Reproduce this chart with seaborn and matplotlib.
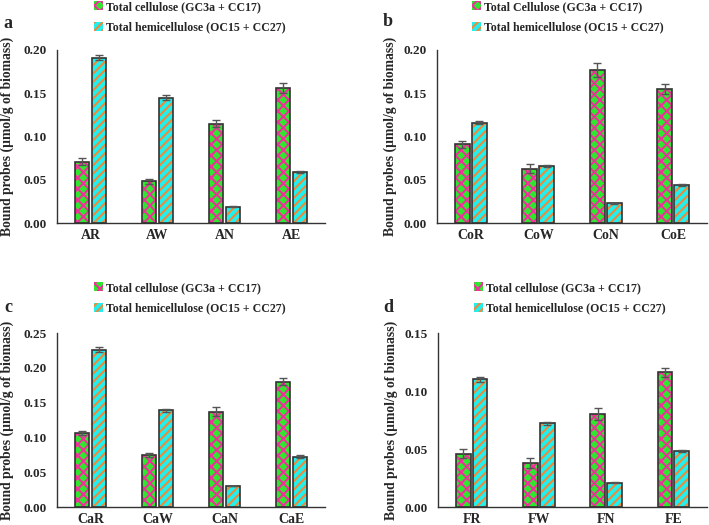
import pandas as pd
import seaborn as sns
import matplotlib.pyplot as plt
from matplotlib.patches import Patch, Rectangle

cats_a = ["AR", "AW", "AN", "AE"]
cell_a = [0.071, 0.048, 0.115, 0.156]
cell_a_err = [0.004, 0.003, 0.004, 0.006]
hemi_a = [0.191, 0.145, 0.019, 0.059]
hemi_a_err = [0.003, 0.003, 0.0005, 0.001]

cats_b = ["CoR", "CoW", "CoN", "CoE"]
cell_b = [0.091, 0.063, 0.177, 0.155]
cell_b_err = [0.004, 0.005, 0.008, 0.006]
hemi_b = [0.116, 0.066, 0.023, 0.044]
hemi_b_err = [0.002, 0.001, 0.0005, 0.001]

cats_c = ["CaR", "CaW", "CaN", "CaE"]
cell_c = [0.106, 0.075, 0.137, 0.180]
cell_c_err = [0.003, 0.003, 0.006, 0.005]
hemi_c = [0.226, 0.139, 0.030, 0.072]
hemi_c_err = [0.004, 0.002, 0.0005, 0.002]

cats_d = ["FR", "FW", "FN", "FE"]
cell_d = [0.046, 0.038, 0.080, 0.116]
cell_d_err = [0.004, 0.004, 0.005, 0.004]
hemi_d = [0.110, 0.072, 0.021, 0.048]
hemi_d_err = [0.002, 0.001, 0.0005, 0.001]

GREEN, MAGENTA = "#2ee82e", "#f0309a"
CYAN, ORANGE = "#1ff0f0", "#f08a3a"
EDGE = "#333333"
CELL_HATCH, HEMI_HATCH = "xxx", "////"


def panel(ax, cats, cell, cell_err, hemi, hemi_err, ymax, letter, leg1, leg_xy, letter_xy, fig):
    df = pd.DataFrame({
        "cat": cats * 2,
        "val": cell + hemi,
        "series": ["cell"] * len(cats) + ["hemi"] * len(cats),
    })
    sns.barplot(data=df, x="cat", y="val", hue="series", ax=ax, width=0.5, gap=0.12,
                palette=[GREEN, CYAN], legend=False, saturation=1)
    styles = [(MAGENTA, CELL_HATCH), (ORANGE, HEMI_HATCH)]
    for cont, (hc, ht), errs in zip(ax.containers, styles, [cell_err, hemi_err]):
        for p, e in zip(cont.patches, errs):
            p.set_hatch(ht)
            p.set_edgecolor(hc)
            p.set_linewidth(0)
            ax.add_patch(Rectangle(p.get_xy(), p.get_width(), p.get_height(),
                                   fill=False, edgecolor=EDGE, linewidth=1.2, zorder=3))
            ax.errorbar(p.get_x() + p.get_width() / 2, p.get_height(), yerr=e,
                        fmt="none", ecolor="#555555", elinewidth=1, capsize=3, zorder=4)
    ax.set_xlim(-0.5, 3.5)
    ax.set_ylim(0, ymax)
    ax.set_yticks([i * 0.05 for i in range(int(round(ymax / 0.05)) + 1)])
    ax.set_yticklabels([f"{t:.2f}" for t in ax.get_yticks()])
    ax.set_xticks([0.5, 1.5, 2.5, 3.5, -0.5], minor=True)
    ax.tick_params(axis="x", which="major", length=0, labelsize=10, pad=4)
    ax.tick_params(axis="x", which="minor", length=4, direction="out", color=EDGE)
    ax.tick_params(axis="y", length=4, labelsize=9.5, color=EDGE)
    ax.set_xlabel("")
    ax.set_ylabel("Bound probes (µmol/g of biomass)", fontsize=9.8, fontweight="bold")
    for s in ["top", "right"]:
        ax.spines[s].set_visible(False)
    for s in ["left", "bottom"]:
        ax.spines[s].set_color(EDGE)
        ax.spines[s].set_linewidth(1)
    handles = [Patch(facecolor=GREEN, edgecolor=MAGENTA, hatch=CELL_HATCH, linewidth=0),
               Patch(facecolor=CYAN, edgecolor=ORANGE, hatch=HEMI_HATCH, linewidth=0)]
    fig.legend(handles, [leg1, "Total hemicellulose (OC15 + CC27)"],
               loc="upper left", bbox_to_anchor=leg_xy, frameon=False,
               handlelength=0.75, handleheight=0.75, handletextpad=0.25,
               labelspacing=0.7, borderaxespad=0, borderpad=0,
               prop={"family": "Liberation Serif", "weight": "bold", "size": 8.6})
    fig.text(letter_xy[0], letter_xy[1], letter, fontsize=13, fontweight="bold",
             ha="center", va="center")


sns.set_style("white")
plt.rcParams["font.family"] = ["Liberation Serif", "DejaVu Serif"]
plt.rcParams["font.weight"] = "bold"
plt.rcParams["hatch.linewidth"] = 1.5

fig = plt.figure(figsize=(7.09, 5.25), dpi=100)
W, H = 709, 525
ax_a = fig.add_axes([57 / W, 1 - 223 / H, 268 / W, 173 / H])
ax_b = fig.add_axes([437 / W, 1 - 223 / H, 270 / W, 173 / H])
ax_c = fig.add_axes([57 / W, 1 - 507 / H, 268 / W, 174 / H])
ax_d = fig.add_axes([438 / W, 1 - 507 / H, 269 / W, 174 / H])

panel(ax_a, cats_a, cell_a, cell_a_err, hemi_a, hemi_a_err, 0.20, "a",
      "Total cellulose (GC3a + CC17)", (94 / W, 1 - 1 / H), (8 / W, 1 - 23 / H), fig)
panel(ax_b, cats_b, cell_b, cell_b_err, hemi_b, hemi_b_err, 0.20, "b",
      "Total Cellulose (GC3a + CC17)", (472 / W, 1 - 1 / H), (388 / W, 1 - 22 / H), fig)
panel(ax_c, cats_c, cell_c, cell_c_err, hemi_c, hemi_c_err, 0.25, "c",
      "Total cellulose (GC3a + CC17)", (94 / W, 1 - 282 / H), (8 / W, 1 - 307 / H), fig)
panel(ax_d, cats_d, cell_d, cell_d_err, hemi_d, hemi_d_err, 0.15, "d",
      "Total cellulose (GC3a + CC17)", (474 / W, 1 - 282 / H), (388 / W, 1 - 307 / H), fig)

for ax in [ax_a, ax_c]:
    ax.yaxis.set_label_coords(-0.16, 0.5)
for ax in [ax_b, ax_d]:
    ax.yaxis.set_label_coords(-0.15, 0.5)

fig.savefig("out.png", dpi=100)
